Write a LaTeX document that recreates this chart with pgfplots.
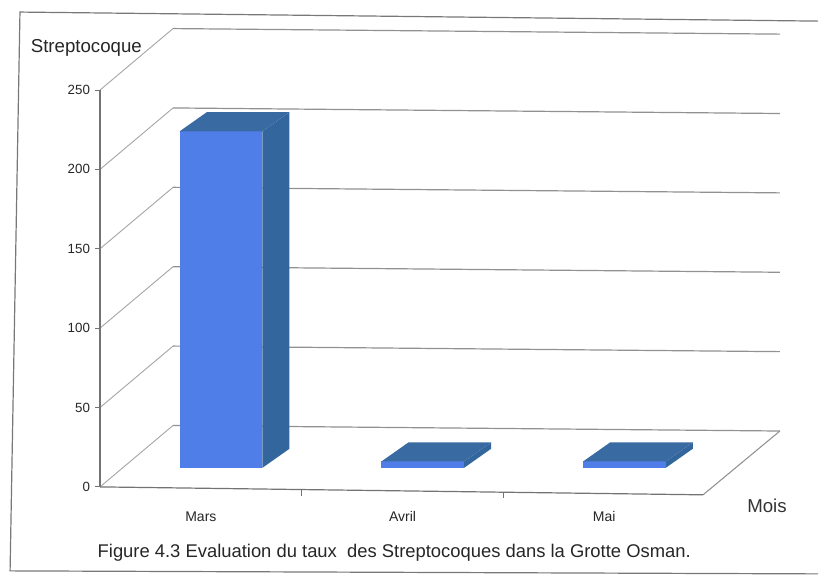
\documentclass[border=0pt]{standalone}
\usepackage{fontspec}
\setmainfont{Liberation Sans}
\usepackage{pgfplots}
\pgfplotsset{compat=1.18}

\definecolor{barfront}{RGB}{80,126,232}
\definecolor{barside}{RGB}{52,102,158}
\definecolor{bartop}{RGB}{58,106,162}
\definecolor{gridc}{RGB}{145,145,145}
\definecolor{axisc}{RGB}{115,115,115}
\definecolor{framec}{RGB}{120,120,120}

% bar depth: front face offset (0.10, 12), back face offset (0.234, 24); half width 0.205
\newcommand{\drawbar}[2]{%
  \pgfmathsetmacro\xl{#1-0.205+0.10}%
  \pgfmathsetmacro\xr{#1+0.205+0.10}%
  \pgfmathsetmacro\xbl{#1-0.205+0.234}%
  \pgfmathsetmacro\xbr{#1+0.205+0.234}%
  \pgfmathsetmacro\yt{#2+12}%
  \pgfmathsetmacro\ybt{#2+24}%
  \addplot[fill=barside, draw=none] coordinates {(\xr,12) (\xbr,24) (\xbr,\ybt) (\xr,\yt)} --cycle;
  \addplot[fill=barfront, draw=none] coordinates {(\xl,12) (\xr,12) (\xr,\yt) (\xl,\yt)} --cycle;
  \addplot[fill=bartop, draw=none] coordinates {(\xl,\yt) (\xr,\yt) (\xbr,\ybt) (\xbl,\ybt)} --cycle;
}

\begin{document}
\begin{tikzpicture}
\begin{axis}[
  x=151.3pt, y=1.191pt,
  xmin=0, xmax=3, ymin=0, ymax=250,
  clip=false,
  axis line style={draw=none},
  tick style={draw=none},
  xtick={0.5,1.5,2.5},
  xticklabels={Mars,Avril,Mai},
  ytick={0,50,...,250},
  /pgf/number format/assume math mode=true,
  yticklabel style={font=\fontsize{10}{12}\selectfont, text=black!85, xshift=-4pt},
  xticklabel style={font=\fontsize{10.5}{12}\selectfont, text=black!85, yshift=-15pt},
]
% back wall grid lines
\addplot[gridc, line width=0.9pt] coordinates {(0.362,38.7) (3.371,35.2)};
\addplot[gridc, line width=0.9pt] coordinates {(0.362,88.7) (3.371,85.2)};
\addplot[gridc, line width=0.9pt] coordinates {(0.362,138.7) (3.371,135.2)};
\addplot[gridc, line width=0.9pt] coordinates {(0.362,188.7) (3.371,185.2)};
\addplot[gridc, line width=0.9pt] coordinates {(0.362,238.7) (3.371,235.2)};
\addplot[gridc, line width=0.9pt] coordinates {(0.362,288.7) (3.371,285.2)};
% side wall grid lines
\addplot[gridc!80, line width=0.7pt] coordinates {(0,0) (0.362,38.7)};
\addplot[gridc!80, line width=0.7pt] coordinates {(0,50) (0.362,88.7)};
\addplot[gridc!80, line width=0.7pt] coordinates {(0,100) (0.362,138.7)};
\addplot[gridc!80, line width=0.7pt] coordinates {(0,150) (0.362,188.7)};
\addplot[gridc!80, line width=0.7pt] coordinates {(0,200) (0.362,238.7)};
\addplot[gridc!80, line width=0.7pt] coordinates {(0,250) (0.362,288.7)};
% floor, right edge
\addplot[gridc, line width=0.8pt] coordinates {(2.99,-5) (3.371,35.2)};
% vertical axis and its ticks
\addplot[axisc, line width=0.9pt] coordinates {(0,0) (0,250)};
\pgfplotsinvokeforeach{0,50,...,250}{
  \addplot[axisc, line width=0.7pt] coordinates {(-0.025,#1) (0,#1)};
}

% bars: Mars, Avril, Mai
\drawbar{0.5}{212}
\drawbar{1.5}{4}
\drawbar{2.5}{4}

% front edge of the floor with category separators
\addplot[axisc, line width=0.9pt] coordinates {(0,0) (2.99,-5)};
\addplot[axisc, line width=0.7pt] coordinates {(1,-1.7) (1,-5.5)};
\addplot[axisc, line width=0.7pt] coordinates {(2,-3.3) (2,-7.1)};

% titles
\node[font=\fontsize{14}{16}\selectfont, text=black!85] at (axis cs:-0.068,276.4) {Streptocoque};
\node[font=\fontsize{14}{16}\selectfont, text=black!80] at (axis cs:3.307,-12) {Mois};
\node[anchor=west, font=\fontsize{13.8}{16}\selectfont, text=black!85] at (axis cs:-0.035,-41.6)
  {Figure 4.3 Evaluation du taux\ \ des Streptocoques dans la Grotte Osman.};

% outer frame
\draw[framec, line width=0.9pt] (axis cs:3.56,293.4) -- (axis cs:-0.397,299.1) -- (axis cs:-0.446,-52.9) -- (axis cs:3.56,-54.8);

% page extent
\path (axis cs:-0.496,-56) rectangle (axis cs:3.565,306.7);
\end{axis}
\end{tikzpicture}
\end{document}
